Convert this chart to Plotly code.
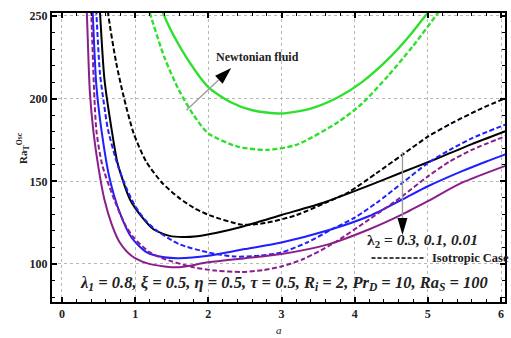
import math
import plotly.graph_objects as go

# Oscillatory Rayleigh number vs wavenumber a
# Anisotropic (solid) and isotropic (dashed) curves for lambda2 = 0.3, 0.1, 0.01,
# plus the Newtonian-fluid pair in green.

a_k_sol = [0.47, 0.52, 0.58, 0.68, 0.76, 0.93, 1.1, 1.25, 1.47, 1.65, 1.85, 2.1, 2.46, 3.0, 3.6, 4.2, 4.65, 5.0, 5.3, 5.6, 6.1]
ra_k_sol = [290, 252, 212, 181, 161, 139, 128, 121, 117, 116.3, 116.8, 118.7, 122.5, 129.6, 137.5, 147.5, 155.5, 161.5, 167, 172.5, 181]

a_k_iso = [0.58, 0.63, 0.74, 0.85, 0.98, 1.15, 1.37, 1.6, 1.8, 2.01, 2.46, 2.78, 3.2, 3.6, 3.92, 4.3, 4.65, 5.0, 5.32, 5.73, 6.1]
ra_k_iso = [280, 252, 222, 200, 179, 162, 149, 140, 134, 129.6, 123.8, 124.8, 129.5, 137, 143.5, 155, 166, 177, 185, 194, 201]

a_b_sol = [0.38, 0.42, 0.47, 0.54, 0.65, 0.79, 0.95, 1.16, 1.4, 1.6, 2.0, 2.5, 3.0, 3.65, 4.2, 4.65, 5.0, 5.46, 5.8, 6.1]
ra_b_sol = [290, 252, 208, 181, 152, 131, 116, 107, 104, 103.5, 105, 109, 113, 120.5, 129, 139, 147, 156, 162, 167]

a_b_iso = [0.43, 0.47, 0.52, 0.58, 0.63, 0.76, 0.88, 1.0, 1.15, 1.3, 1.6, 2.0, 2.35, 2.7, 3.0, 3.35, 3.69, 4.0, 4.3, 4.65, 5.0, 5.3, 5.6, 6.1]
ra_b_iso = [290, 252, 215, 195, 181, 160, 146, 135, 126, 120, 112, 107, 104.5, 105, 107, 113, 121, 128, 137, 149, 161, 169, 176, 185]

a_p_sol = [0.30, 0.34, 0.38, 0.43, 0.5, 0.58, 0.68, 0.79, 0.95, 1.16, 1.4, 1.6, 2.0, 2.5, 3.0, 3.65, 4.2, 4.65, 5.0, 5.46, 6.1]
ra_p_sol = [290, 252, 205, 180, 158, 139, 124, 113, 105, 100.5, 98.5, 98, 101, 103.5, 106, 112, 121, 130, 138, 149, 160]

a_p_iso = [0.36, 0.40, 0.47, 0.55, 0.7, 0.85, 0.97, 1.2, 1.47, 1.8, 2.1, 2.46, 2.75, 3.0, 3.3, 3.69, 4.2, 4.65, 5.0, 5.3, 5.6, 6.1]
ra_p_iso = [290, 252, 181, 160, 140.5, 125, 116.5, 107, 102, 98, 96, 95.2, 96.3, 98.5, 103, 112, 127, 141, 153, 162, 169, 178]

a_g_sol = [1.3, 1.38, 1.47, 1.7, 2.0, 2.3, 2.6, 3.0, 3.4, 3.78, 4.1, 4.46, 4.75, 5.0, 5.2]
ra_g_sol = [262, 252, 243, 225, 207, 198, 193, 191, 194, 201, 210, 224, 238, 252, 262]

a_g_iso = [1.12, 1.2, 1.4, 1.6, 1.8, 2.0, 2.4, 2.8, 3.2, 3.78, 4.1, 4.46, 4.8, 5.14, 5.3]
ra_g_iso = [265, 252, 225, 205, 190, 179, 171, 169, 172, 186, 197, 214, 232, 252, 262]

x_ticks = [0, 1, 2, 3, 4, 5, 6]
y_ticks = [100, 150, 200, 250]

X_RANGE = [-0.136, 6.054]
Y_RANGE = [77.0, 251.8]
WIDTH, HEIGHT = 511, 338
MARGIN = dict(l=52, r=4, t=13, b=36)

BLACK = "#000000"
BLUE = "#1f1fff"
PURPLE = "#8a1f8a"
GREEN = "#2ee02e"
DASH = "5px,2.5px"
SERIF = "Liberation Serif"
POINTER_GREY = "#9a9a9a"

# data units per screen pixel, used to size the pointer heads in pixels
PLOT_W = WIDTH - MARGIN["l"] - MARGIN["r"]
PLOT_H = HEIGHT - MARGIN["t"] - MARGIN["b"]
DX = (X_RANGE[1] - X_RANGE[0]) / PLOT_W
DY = (Y_RANGE[1] - Y_RANGE[0]) / PLOT_H


def pointer(tail, tip, head_len, head_w):
    """Grey shaft from tail to tip with a filled black triangular head."""
    ux = (tip[0] - tail[0]) / DX
    uy = (tip[1] - tail[1]) / DY
    n = math.hypot(ux, uy)
    ux, uy = ux / n, uy / n
    bx, by = -ux * head_len, -uy * head_len
    px, py = -uy * head_w / 2, ux * head_w / 2
    base = (tip[0] + bx * DX, tip[1] + by * DY)
    p1 = (base[0] + px * DX, base[1] + py * DY)
    p2 = (base[0] - px * DX, base[1] - py * DY)
    fig.add_shape(type="line", x0=tail[0], y0=tail[1], x1=base[0], y1=base[1],
                  xref="x", yref="y", line=dict(color=POINTER_GREY, width=1.3))
    path = f"M {tip[0]} {tip[1]} L {p1[0]} {p1[1]} L {p2[0]} {p2[1]} Z"
    fig.add_shape(type="path", path=path, xref="x", yref="y",
                  fillcolor="black", line=dict(width=0))


fig = go.Figure()

curves = [
    (a_g_sol, ra_g_sol, GREEN, "solid", 2.4),
    (a_g_iso, ra_g_iso, GREEN, DASH, 2.4),
    (a_k_iso, ra_k_iso, BLACK, DASH, 2.0),
    (a_k_sol, ra_k_sol, BLACK, "solid", 2.0),
    (a_b_iso, ra_b_iso, BLUE, DASH, 2.0),
    (a_b_sol, ra_b_sol, BLUE, "solid", 2.0),
    (a_p_iso, ra_p_iso, PURPLE, DASH, 2.0),
    (a_p_sol, ra_p_sol, PURPLE, "solid", 2.0),
]
for xs, ys, col, dash, w in curves:
    fig.add_trace(go.Scatter(
        x=xs, y=ys, mode="lines",
        line=dict(color=col, width=w, dash=dash, shape="spline", smoothing=0.7),
        showlegend=False, hoverinfo="skip",
    ))

axis_common = dict(
    showline=True, linecolor="black", linewidth=2, mirror="allticks",
    ticks="inside", ticklen=5, tickwidth=1.5, tickcolor="black",
    showgrid=True, gridcolor="#b8b8b8", gridwidth=1, griddash="dot",
    zeroline=False,
    tickfont=dict(family=SERIF, size=12, color="#222", weight="bold"),
)

fig.update_xaxes(
    range=X_RANGE, tickvals=x_ticks,
    minor=dict(ticks="inside", ticklen=3, dtick=0.2, tickcolor="black", tickwidth=1.2, showgrid=False),
    **axis_common,
)
fig.update_yaxes(
    range=Y_RANGE, tickvals=y_ticks,
    minor=dict(ticks="inside", ticklen=3, dtick=10, tickcolor="black", tickwidth=1.2, showgrid=False),
    **axis_common,
)

# pointers to the Newtonian curves and across the lambda2 family
pointer((1.70, 193.0), (2.313, 218.5), head_len=17, head_w=11)
pointer((4.653, 167.7), (4.653, 117.5), head_len=17, head_w=10)

fig.add_annotation(x=2.67, y=225, xref="x", yref="y", text="Newtonian fluid", showarrow=False,
                   font=dict(family=SERIF, size=12, color="#222", weight="bold"))
fig.add_annotation(x=4.93, y=114.5, xref="x", yref="y", showarrow=False,
                   text="<b>λ<sub>2</sub> = <i>0.3, 0.1, 0.01</i></b>",
                   font=dict(family=SERIF, size=15.5, color="#222"))

# isotropic-case key
fig.add_shape(type="line", x0=4.23, x1=4.97, y0=103.6, y1=103.6, xref="x", yref="y",
              line=dict(color="black", width=1.5, dash="4px,2px"))
fig.add_annotation(x=5.03, y=103.6, xref="x", yref="y", xanchor="left", showarrow=False,
                   text="Isotropic Case", font=dict(family=SERIF, size=12.5, color="#222", weight="bold"))

# parameter line
fig.add_annotation(x=3.03, y=88.5, xref="x", yref="y", showarrow=False,
                   text="<b><i>λ<sub>1</sub> = 0.8, ξ = 0.5, η = 0.5, τ = 0.5, R<sub>i</sub> = 2, "
                        "Pr<sub>D</sub> = 10, Ra<sub>S</sub> = 100</i></b>",
                   font=dict(family=SERIF, size=16.5, color="#222"))

# axis titles
fig.add_annotation(x=-0.085, y=0.535, xref="paper", yref="paper", showarrow=False, textangle=-90,
                   text="<b>Ra<sub>T</sub><sup>Osc</sup></b>",
                   font=dict(family=SERIF, size=11, color="#222"))
fig.add_annotation(x=0.5, y=-0.097, xref="paper", yref="paper", showarrow=False, yanchor="middle",
                   text="<i>a</i>", font=dict(family=SERIF, size=11, color="#222"))

fig.update_layout(
    width=WIDTH, height=HEIGHT,
    margin=MARGIN,
    plot_bgcolor="white", paper_bgcolor="white",
    showlegend=False,
)

fig.write_html("out.html")
